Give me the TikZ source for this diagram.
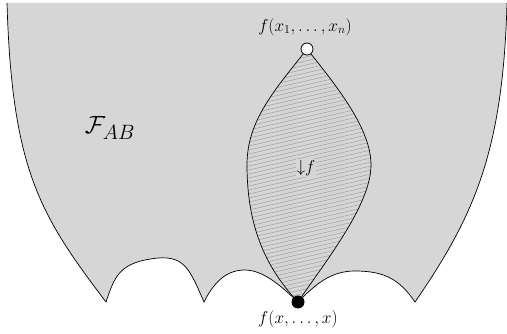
\documentclass[tikz,border=0pt]{standalone}
\usepackage{amsmath}
\begin{document}
\begin{tikzpicture}[x=1pt,y=-1pt,
  bg/.style={fill=gray!32},
  outline/.style={draw=black,line width=0.7pt},
  hatchline/.style={draw=gray!75,line width=0.5pt},
  lbl/.style={font=\fontsize{17.5}{20}\selectfont,inner sep=1pt},
  opendot/.style={circle,draw=black,fill=white,line width=0.8pt,minimum size=12pt,inner sep=0pt},
  fulldot/.style={circle,fill=black,minimum size=13pt,inner sep=0pt}]
\useasboundingbox (0,0) rectangle (507,334);
% region
\fill[gray!32] (7,3) -- (507,3) .. controls (503,150) and (475,215) .. (415,302)
  .. controls (400,280) and (385,271) .. (355,271)
  .. controls (330,271) and (315,285) .. (298,302)
  .. controls (285,290) and (265,270) .. (245,270)
  .. controls (228,270) and (215,280) .. (204,302)
  .. controls (190,270) and (185,256) .. (158,258)
  .. controls (120,262) and (115,275) .. (106,302)
  .. controls (40,215) and (12,170) .. (7,3) -- cycle;
\draw[line width=0.7pt] (507,3) .. controls (503,150) and (475,215) .. (415,302)
  .. controls (400,280) and (385,271) .. (355,271)
  .. controls (330,271) and (315,285) .. (298,302)
  .. controls (285,290) and (265,270) .. (245,270)
  .. controls (228,270) and (215,280) .. (204,302)
  .. controls (190,270) and (185,256) .. (158,258)
  .. controls (120,262) and (115,275) .. (106,302)
  .. controls (40,215) and (12,170) .. (7,3);
\coordinate (top) at (307,49);
\coordinate (bot) at (298,302);
% lens hatch
\begin{scope}
\clip (top) .. controls (275,90) and (247,120) .. (247,165)
  .. controls (247,230) and (268,270) .. (bot)
  .. controls (325,262) and (371,205) .. (371,165)
  .. controls (371,130) and (340,90) .. (top) -- cycle;
\foreach \i in {0,...,75} {
  \draw[hatchline] (240,{40+4*\i}) -- (380,{40+4*\i-32});
}
\end{scope}
\draw[outline] (top) .. controls (275,90) and (247,120) .. (247,165)
  .. controls (247,230) and (268,270) .. (bot);
\draw[outline] (top) .. controls (340,90) and (371,130) .. (371,165)
  .. controls (371,205) and (325,262) .. (bot);
\node[lbl,fill=gray!32] (down) at (306,168) {${\downarrow}f$};
\node[opendot] (topdot) at (top) {};
\node[fulldot] (botdot) at (bot) {};
\node[lbl] (toplabel) at (305,27) {$f(x_1,\ldots,x_n)$};
\node[lbl] (botlabel) at (298,319) {$f(x,\ldots,x)$};
\node[font=\fontsize{30}{34}\selectfont] (fab) at (110,128) {$\mathcal{F}_{AB}$};
\end{tikzpicture}
\end{document}
